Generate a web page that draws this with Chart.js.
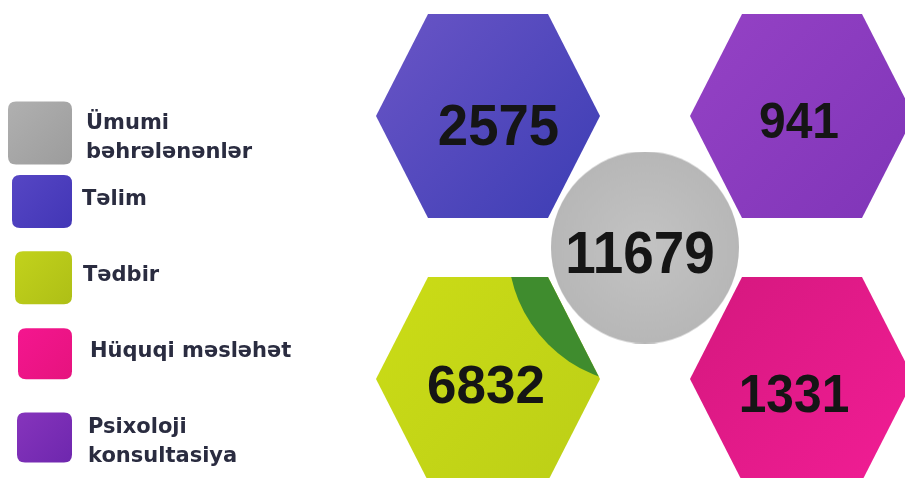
<!DOCTYPE html>
<html>
<head>
<meta charset="utf-8">
<script src="https://cdn.jsdelivr.net/npm/chart.js@4.4.1/dist/chart.umd.min.js"></script>
<style>
  html, body { margin: 0; padding: 0; background: #ffffff; }
  #wrap { width: 905px; height: 478px; position: relative; }
</style>
</head>
<body>
<div id="wrap"><canvas id="c"></canvas></div>
<script>
// ---------------- DATA ----------------
const categories = ['Ümumi bəhrələnənlər', 'Təlim', 'Tədbir', 'Hüquqi məsləhət', 'Psixoloji konsultasiya'];
const values = [11679, 2575, 6832, 1331, 941];
const totalCategory = 'Ümumi bəhrələnənlər';
// reading order of the 2x2 honeycomb grid (left->right, top->bottom)
const gridOrder = ['Təlim', 'Psixoloji konsultasiya', 'Tədbir', 'Hüquqi məsləhət'];

// ---------------- STYLE ----------------
const hexShape = { halfW: 112, halfH: 102, halfTop: 60 };
const circleShape = { rx: 94, ry: 96 };
const fills = {
  'Ümumi bəhrələnənlər': ['#c2c2c2', '#b7b7b7'],
  'Təlim': ['#6a55c6', '#3c3db4'],
  'Tədbir': ['#cbdc16', '#bccf17'],
  'Hüquqi məsləhət': ['#d4187e', '#f21d95'],
  'Psixoloji konsultasiya': ['#9542c5', '#7f35b8']
};
const legendFills = {
  'Ümumi bəhrələnənlər': ['#b0b0b0', '#9c9c9c'],
  'Təlim': ['#5646c4', '#4236b6'],
  'Tədbir': ['#c2d21c', '#aebf16'],
  'Hüquqi məsləhət': ['#f4168f', '#e6137e'],
  'Psixoloji konsultasiya': ['#8634bc', '#6e27ae']
};
const numberStyle = {
  'Ümumi bəhrələnənlər': { size: 59, sx: 0.93, dx: -5, dy: 4 },
  'Təlim': { size: 58, sx: 0.94, dx: 10.5, dy: 8 },
  'Tədbir': { size: 53, sx: 1.0, dx: -2, dy: 5 },
  'Hüquqi məsləhət': { size: 54, sx: 0.92, dx: -8, dy: 13.5 },
  'Psixoloji konsultasiya': { size: 50, sx: 0.96, dx: -3, dy: 4 }
};
const shadow = { on: 'Tədbir', radius: 137, color: '#3f8c2e' };
const legendStyle = {
  textX: [86, 82, 83, 90, 88], firstBaseline: 128.5, step: 76.1, lineH: 29.5, maxW: 215,
  font: 'bold 21px "DejaVu Sans"', color: '#2a2c40', boxRight: 72, radius: 8,
  boxes: [[64, 63], [60, 53], [57, 53], [54, 51], [55, 50]]
};

// ---------------- HELPERS ----------------
function hexPath(ctx, cx, cy) {
  const a = hexShape.halfW, h = hexShape.halfH, t = hexShape.halfTop;
  ctx.beginPath();
  ctx.moveTo(cx - a, cy);
  ctx.lineTo(cx - t, cy - h);
  ctx.lineTo(cx + t, cy - h);
  ctx.lineTo(cx + a, cy);
  ctx.lineTo(cx + t, cy + h);
  ctx.lineTo(cx - t, cy + h);
  ctx.closePath();
}
function makeHex(pair) {
  const c = document.createElement('canvas');
  c.width = hexShape.halfW * 2; c.height = hexShape.halfH * 2;
  const g = c.getContext('2d');
  const grad = g.createLinearGradient(0, 0, c.width, c.height);
  grad.addColorStop(0, pair[0]); grad.addColorStop(1, pair[1]);
  g.fillStyle = grad;
  hexPath(g, hexShape.halfW, hexShape.halfH);
  g.fill();
  return c;
}
function makeCircle(pair) {
  const c = document.createElement('canvas');
  c.width = circleShape.rx * 2; c.height = circleShape.ry * 2;
  const g = c.getContext('2d');
  const grad = g.createRadialGradient(c.width / 2, c.height / 2, 10, c.width / 2, c.height / 2, circleShape.ry);
  grad.addColorStop(0, pair[0]); grad.addColorStop(1, pair[1]);
  g.fillStyle = grad;
  g.beginPath();
  g.ellipse(c.width / 2, c.height / 2, circleShape.rx, circleShape.ry, 0, 0, Math.PI * 2);
  g.fill();
  return c;
}
const valueOf = name => values[categories.indexOf(name)];

// grid positions derived from the order index
const hexPoints = gridOrder.map((name, k) => ({ x: k % 2, y: Math.floor(k / 2), name: name, v: valueOf(name) }));
const centerPoint = {
  x: hexPoints.reduce((s, p) => s + p.x, 0) / hexPoints.length,
  y: hexPoints.reduce((s, p) => s + p.y, 0) / hexPoints.length,
  name: totalCategory, v: valueOf(totalCategory)
};
const hexImages = hexPoints.map(p => makeHex(fills[p.name]));
const circleImage = makeCircle(fills[totalCategory]);

// ---------------- PLUGINS ----------------
const shadowPlugin = {
  id: 'shadow',
  afterDatasetDraw(chart, args) {
    if (args.index !== 1) return;
    const k = gridOrder.indexOf(shadow.on);
    const el = chart.getDatasetMeta(1).data[k];
    const c = chart.getDatasetMeta(0).data[0];
    const ctx = chart.ctx;
    ctx.save();
    hexPath(ctx, el.x, el.y);
    ctx.clip();
    ctx.fillStyle = shadow.color;
    ctx.beginPath();
    ctx.arc(c.x, c.y, shadow.radius, 0, Math.PI * 2);
    ctx.fill();
    ctx.restore();
  }
};

function drawNumber(ctx, el, p) {
  const st = numberStyle[p.name];
  ctx.save();
  ctx.font = 'bold ' + st.size + 'px "Liberation Sans", Arial, sans-serif';
  ctx.fillStyle = '#151515';
  ctx.textAlign = 'center';
  ctx.textBaseline = 'alphabetic';
  ctx.translate(el.x + st.dx, el.y + st.dy + st.size * 0.358);
  ctx.scale(st.sx, 1);
  ctx.fillText(String(p.v), 0, 0);
  ctx.restore();
}
const numbersPlugin = {
  id: 'numbers',
  afterDatasetsDraw(chart) {
    const ctx = chart.ctx;
    chart.getDatasetMeta(1).data.forEach((el, i) => drawNumber(ctx, el, hexPoints[i]));
    drawNumber(ctx, chart.getDatasetMeta(0).data[0], centerPoint);
  }
};

function wrapText(ctx, text, maxW) {
  if (ctx.measureText(text).width <= maxW) return [text];
  const words = text.split(' ');
  const lines = [];
  let cur = '';
  words.forEach(w => {
    const test = cur ? cur + ' ' + w : w;
    if (cur && ctx.measureText(test).width > maxW) { lines.push(cur); cur = w; }
    else cur = test;
  });
  if (cur) lines.push(cur);
  return lines;
}
function roundRect(ctx, x, y, w, h, r) {
  ctx.beginPath();
  ctx.moveTo(x + r, y);
  ctx.lineTo(x + w - r, y);
  ctx.quadraticCurveTo(x + w, y, x + w, y + r);
  ctx.lineTo(x + w, y + h - r);
  ctx.quadraticCurveTo(x + w, y + h, x + w - r, y + h);
  ctx.lineTo(x + r, y + h);
  ctx.quadraticCurveTo(x, y + h, x, y + h - r);
  ctx.lineTo(x, y + r);
  ctx.quadraticCurveTo(x, y, x + r, y);
  ctx.closePath();
}
const legendPlugin = {
  id: 'sideLegend',
  afterDraw(chart) {
    const ctx = chart.ctx;
    const L = legendStyle;
    ctx.save();
    ctx.font = L.font;
    categories.forEach((name, i) => {
      const lines = wrapText(ctx, name, L.maxW);
      const fb = L.firstBaseline + i * L.step;
      const [bw, bh] = L.boxes[i];
      const cy = fb - 3 + (lines.length - 1) * 7.5;
      const bx = L.boxRight - bw, by = cy - bh / 2;
      const grad = ctx.createLinearGradient(bx, by, bx + bw, by + bh);
      grad.addColorStop(0, legendFills[name][0]);
      grad.addColorStop(1, legendFills[name][1]);
      ctx.fillStyle = grad;
      roundRect(ctx, bx, by, bw, bh, L.radius);
      ctx.fill();
      ctx.fillStyle = L.color;
      ctx.textAlign = 'left';
      ctx.textBaseline = 'alphabetic';
      lines.forEach((ln, j) => ctx.fillText(ln, L.textX[i], fb + j * L.lineH));
    });
    ctx.restore();
  }
};

// ---------------- CHART ----------------
// scale ranges place grid column 0/1 and row 0/1 within the 905x478 canvas
const colPx = [488, 802], rowPx = [116, 379], W = 905, H = 478;
const xPer = colPx[1] - colPx[0], yPer = rowPx[1] - rowPx[0];

new Chart(document.getElementById('c'), {
  type: 'scatter',
  data: {
    datasets: [
      {
        label: totalCategory,
        data: [centerPoint],
        pointStyle: circleImage,
        pointRadius: 95,
        order: 0,
        clip: false
      },
      {
        label: 'categories',
        data: hexPoints,
        pointStyle: ctx => hexImages[ctx.dataIndex],
        pointRadius: 100,
        order: 1,
        clip: false
      }
    ]
  },
  options: {
    responsive: true,
    maintainAspectRatio: false,
    animation: false,
    events: [],
    layout: { padding: 0, autoPadding: false },
    plugins: { legend: { display: false }, tooltip: { enabled: false }, title: { display: false } },
    scales: {
      x: { type: 'linear', display: false, min: -colPx[0] / xPer, max: (W - colPx[0]) / xPer },
      y: { type: 'linear', display: false, reverse: true, min: -rowPx[0] / yPer, max: (H - rowPx[0]) / yPer }
    }
  },
  plugins: [shadowPlugin, numbersPlugin, legendPlugin]
});
</script>
</body>
</html>
